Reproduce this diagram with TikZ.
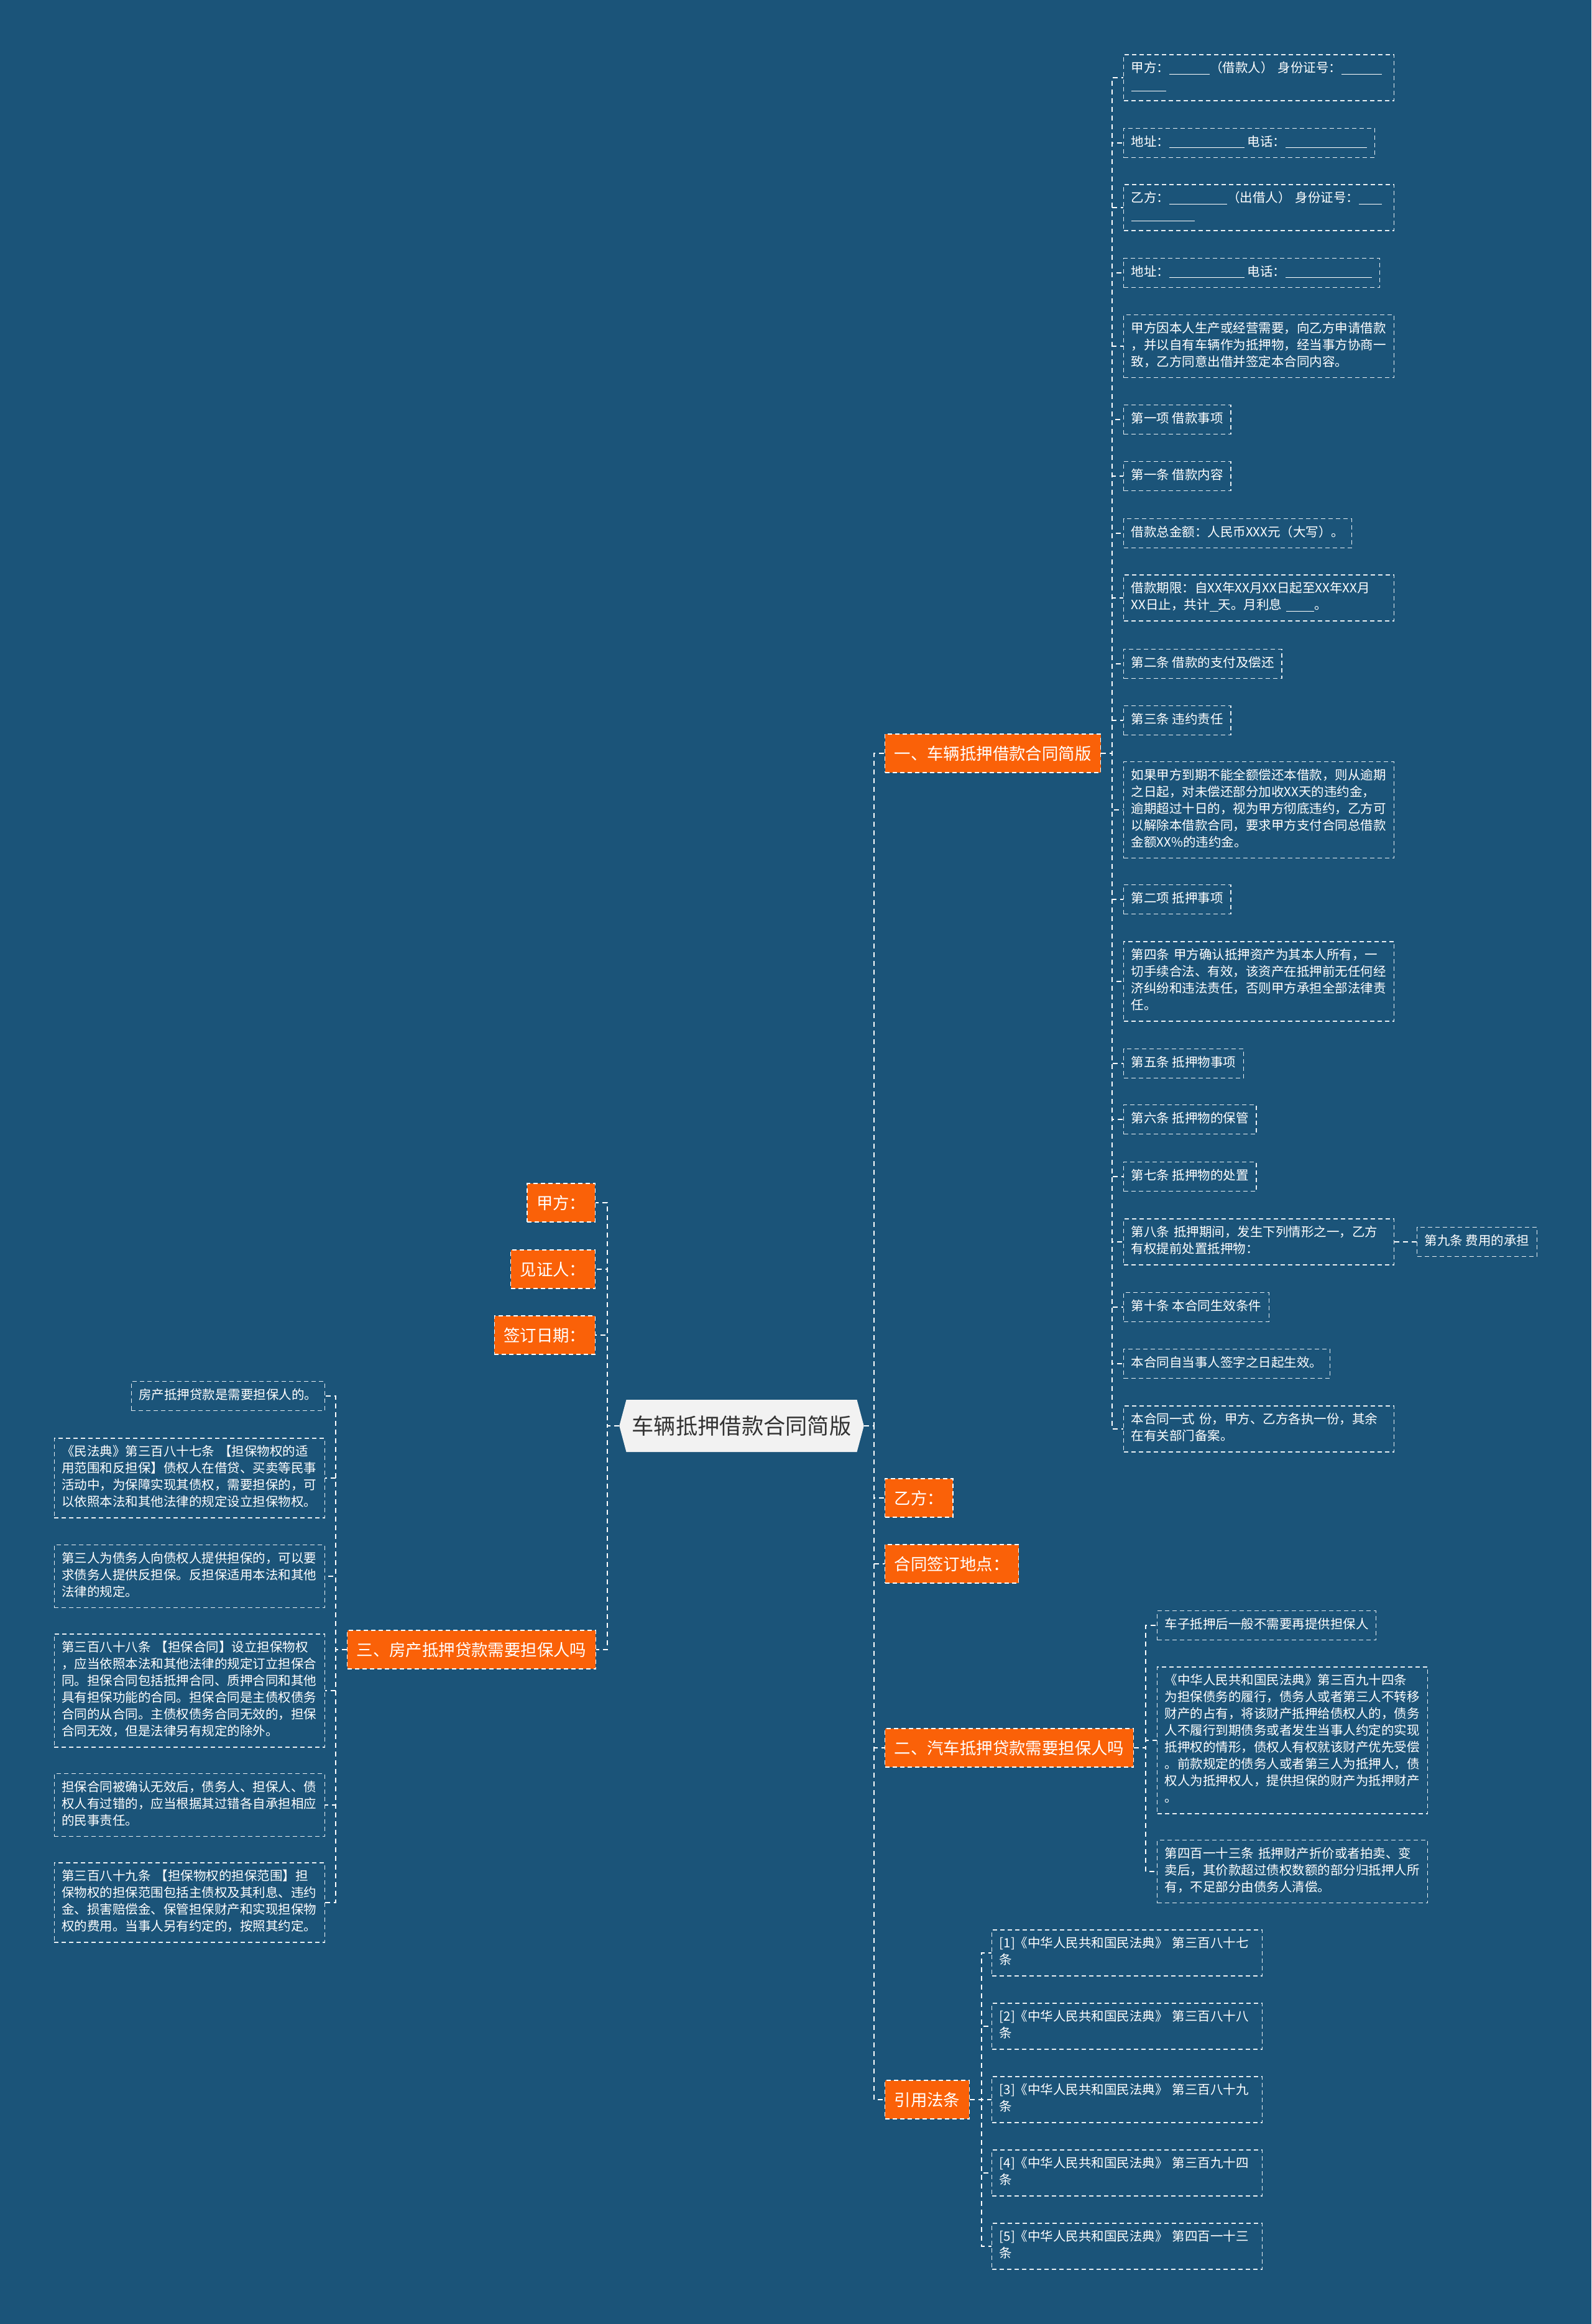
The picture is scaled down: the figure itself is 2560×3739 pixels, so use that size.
\documentclass[tikz,border=0pt]{standalone}
\usepackage{fontspec}
\usepackage{xcolor}
\usepackage{tikz}
\usetikzlibrary{shapes.symbols}
\newfontfamily\mapfont{Noto Sans CJK SC}
\definecolor{bgblue}{HTML}{1B5479}
\definecolor{branchorange}{HTML}{FA6108}
\definecolor{rootgrey}{HTML}{F2F2F2}
\definecolor{roottext}{HTML}{333333}
\newcommand{\gapline}[1]{\rule[-3pt]{#1pt}{1.4pt}}

\begin{document}
\begin{tikzpicture}[x=1pt,y=-1pt,
  linkline/.style={draw=white,line width=2.2pt,dash pattern=on 8pt off 6pt},
  leafbox/.style={draw=white!90!bgblue,line width=1.4pt,dash pattern=on 7pt off 5pt,text=white,
    font=\mapfont\fontsize{20.5}{27}\selectfont,align=left,inner xsep=12pt,inner ysep=10pt,
    execute at begin node=\strut,execute at end node=\strut},
  widebox/.style={leafbox,text width=411pt},
  branchbox/.style={fill=branchorange,draw=white,line width=1.4pt,dash pattern=on 7pt off 5pt,text=white,
    font=\mapfont\fontsize{26.4}{32}\selectfont,inner xsep=15pt,minimum height=62pt},
  rootbox/.style={signal,signal to=east and west,signal pointer angle=150,fill=rootgrey,text=roottext,
    font=\mapfont\fontsize{35.3}{42}\selectfont,inner xsep=9pt,minimum height=84pt}]
\fill[bgblue] (0,0) rectangle (2560,3739);

\node[rootbox] (root) at (1193,2294) {车辆抵押借款合同简版};

\node[branchbox,anchor=west] (b1) at (1423,1212) {一、车辆抵押借款合同简版};
\node[branchbox,anchor=west] (b2) at (1423,2410) {乙方：};
\node[branchbox,anchor=west] (b3) at (1423,2516) {合同签订地点：};
\node[branchbox,anchor=west] (b4) at (1423,2812) {二、汽车抵押贷款需要担保人吗};
\node[branchbox,anchor=west] (b5) at (1423,3378) {引用法条};

\node[branchbox,anchor=east] (l1) at (958,1935) {甲方：};
\node[branchbox,anchor=east] (l2) at (958,2042) {见证人：};
\node[branchbox,anchor=east] (l3) at (958,2148) {签订日期：};
\node[branchbox,anchor=east] (l4) at (959,2654) {三、房产抵押贷款需要担保人吗};

% 一、车辆抵押借款合同简版
\node[widebox,anchor=west] (a1) at (1807,125) {甲方：\gapline{65}（借款人）~身份证号：\gapline{65}\\\gapline{56}};
\node[leafbox,anchor=west] (a2) at (1807,230) {地址：\gapline{121} 电话：\gapline{131}};
\node[widebox,anchor=west] (a3) at (1807,334) {乙方：\gapline{93}（出借人）~身份证号：\gapline{37}\\\gapline{102}};
\node[leafbox,anchor=west] (a4) at (1807,439) {地址：\gapline{121} 电话：\gapline{139}};
\node[widebox,anchor=west] (a5) at (1807,557) {甲方因本人生产或经营需要，向乙方申请借款\\，并以自有车辆作为抵押物，经当事方协商一\\致，乙方同意出借并签定本合同内容。};
\node[leafbox,anchor=west] (a6) at (1807,675) {第一项 借款事项};
\node[leafbox,anchor=west] (a7) at (1807,766) {第一条 借款内容};
\node[leafbox,anchor=west] (a8) at (1807,858) {借款总金额：人民币XXX元（大写）。};
\node[widebox,anchor=west] (a9) at (1807,962) {借款期限：自XX年XX月XX日起至XX年XX月\\XX日止，共计\gapline{14}天。月利息~\gapline{45}。};
\node[leafbox,anchor=west] (a10) at (1807,1068) {第二条 借款的支付及偿还};
\node[leafbox,anchor=west] (a11) at (1807,1159) {第三条 违约责任};
\node[widebox,anchor=west] (a12) at (1807,1303) {如果甲方到期不能全额偿还本借款，则从逾期\\之日起，对未偿还部分加收XX天的违约金，\\逾期超过十日的，视为甲方彻底违约，乙方可\\以解除本借款合同，要求甲方支付合同总借款\\金额XX\%的违约金。};
\node[leafbox,anchor=west] (a13) at (1807,1447) {第二项 抵押事项};
\node[widebox,anchor=west] (a14) at (1807,1579) {第四条~甲方确认抵押资产为其本人所有，一\\切手续合法、有效，该资产在抵押前无任何经\\济纠纷和违法责任，否则甲方承担全部法律责\\任。};
\node[leafbox,anchor=west] (a15) at (1807,1711) {第五条 抵押物事项};
\node[leafbox,anchor=west] (a16) at (1807,1801) {第六条 抵押物的保管};
\node[leafbox,anchor=west] (a17) at (1807,1893) {第七条 抵押物的处置};
\node[widebox,anchor=west] (a18) at (1807,1998) {第八条~抵押期间，发生下列情形之一，乙方\\有权提前处置抵押物：};
\node[leafbox,anchor=west] (a18n) at (2279,1998) {第九条 费用的承担};
\node[leafbox,anchor=west] (a19) at (1807,2103) {第十条 本合同生效条件};
\node[leafbox,anchor=west] (a20) at (1807,2194) {本合同自当事人签字之日起生效。};
\node[widebox,anchor=west] (a21) at (1807,2299) {本合同一式~份，甲方、乙方各执一份，其余\\在有关部门备案。};

% 二、汽车抵押贷款需要担保人吗
\node[leafbox,anchor=west] (q1) at (1861,2615) {车子抵押后一般不需要再提供担保人};
\node[widebox,anchor=west] (q2) at (1861,2800) {《中华人民共和国民法典》第三百九十四条\\为担保债务的履行，债务人或者第三人不转移\\财产的占有，将该财产抵押给债权人的，债务\\人不履行到期债务或者发生当事人约定的实现\\抵押权的情形，债权人有权就该财产优先受偿\\。前款规定的债务人或者第三人为抵押人，债\\权人为抵押权人，提供担保的财产为抵押财产\\。};
\node[widebox,anchor=west] (q3) at (1861,3011) {第四百一十三条~抵押财产折价或者拍卖、变\\卖后，其价款超过债权数额的部分归抵押人所\\有，不足部分由债务人清偿。};

% 引用法条
\node[widebox,anchor=west] (r1) at (1595,3142) {[1]《中华人民共和国民法典》~第三百八十七\\条};
\node[widebox,anchor=west] (r2) at (1595,3260) {[2]《中华人民共和国民法典》~第三百八十八\\条};
\node[widebox,anchor=west] (r3) at (1595,3378) {[3]《中华人民共和国民法典》~第三百八十九\\条};
\node[widebox,anchor=west] (r4) at (1595,3496) {[4]《中华人民共和国民法典》~第三百九十四\\条};
\node[widebox,anchor=west] (r5) at (1595,3614) {[5]《中华人民共和国民法典》~第四百一十三\\条};

% 三、房产抵押贷款需要担保人吗
\node[leafbox,anchor=east] (h1) at (523,2246) {房产抵押贷款是需要担保人的。};
\node[widebox,anchor=east] (h2) at (523,2378) {《民法典》第三百八十七条~【担保物权的适\\用范围和反担保】债权人在借贷、买卖等民事\\活动中，为保障实现其债权，需要担保的，可\\以依照本法和其他法律的规定设立担保物权。};
\node[widebox,anchor=east] (h3) at (523,2536) {第三人为债务人向债权人提供担保的，可以要\\求债务人提供反担保。反担保适用本法和其他\\法律的规定。};
\node[widebox,anchor=east] (h4) at (523,2720) {第三百八十八条~【担保合同】设立担保物权\\，应当依照本法和其他法律的规定订立担保合\\同。担保合同包括抵押合同、质押合同和其他\\具有担保功能的合同。担保合同是主债权债务\\合同的从合同。主债权债务合同无效的，担保\\合同无效，但是法律另有规定的除外。};
\node[widebox,anchor=east] (h5) at (523,2904) {担保合同被确认无效后，债务人、担保人、债\\权人有过错的，应当根据其过错各自承担相应\\的民事责任。};
\node[widebox,anchor=east] (h6) at (523,3061) {第三百八十九条~【担保物权的担保范围】担\\保物权的担保范围包括主债权及其利息、违约\\金、损害赔偿金、保管担保财产和实现担保物\\权的费用。当事人另有约定的，按照其约定。};

% connectors
\foreach \i in {1,...,5} \draw[linkline] (root.east) -- ++(16,0) |- (b\i.west);
\foreach \i in {1,...,4} \draw[linkline] (root.west) -- ++(-19,0) |- (l\i.east);
\foreach \i in {1,...,21} \draw[linkline] (b1.east) -- ++(18,0) |- (a\i.west);
\draw[linkline] (a18.east) -- (a18n.west);
\foreach \i in {1,...,3} \draw[linkline] (b4.east) -- ++(19,0) |- (q\i.west);
\foreach \i in {1,...,5} \draw[linkline] (b5.east) -- ++(19,0) |- (r\i.west);
\foreach \i in {1,...,6} \draw[linkline] (l4.west) -- ++(-18,0) |- (h\i.east);
\end{tikzpicture}
\end{document}
